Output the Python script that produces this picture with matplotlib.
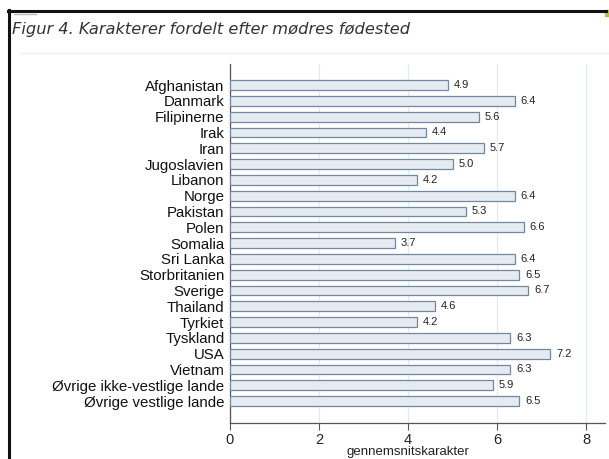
import matplotlib.pyplot as plt
from matplotlib.lines import Line2D
from matplotlib.patches import Rectangle

# Average grades by mother's country of birth
countries = ['Afghanistan', 'Danmark', 'Filipinerne', 'Irak', 'Iran', 'Jugoslavien',
             'Libanon', 'Norge', 'Pakistan', 'Polen', 'Somalia', 'Sri Lanka',
             'Storbritanien', 'Sverige', 'Thailand', 'Tyrkiet', 'Tyskland', 'USA',
             'Vietnam', 'Øvrige ikke-vestlige lande', 'Øvrige vestlige lande']
grades = [4.9, 6.4, 5.6, 4.4, 5.7, 5.0, 4.2, 6.4, 5.3, 6.6, 3.7, 6.4,
          6.5, 6.7, 4.6, 4.2, 6.3, 7.2, 6.3, 5.9, 6.5]
x_ticks = [0, 2, 4, 6, 8]

plt.rcParams['font.family'] = ['Liberation Sans', 'DejaVu Sans']

fig = plt.figure(figsize=(6.09, 4.59), dpi=100)
ax = fig.add_axes([230 / 609, 1 - 423 / 459, 375 / 609, (423 - 64) / 459])

pos = list(range(len(countries)))
ax.barh(pos, grades, height=0.62, color='#e5ebf1', edgecolor='#7388a0', linewidth=0.9, zorder=3)
for y, v in zip(pos, grades):
    ax.text(v + 0.13, y, '%.1f' % v, va='center', ha='left', fontsize=8, color='#222222')

ax.set_yticks(pos)
ax.set_yticklabels(countries, fontsize=10.8, color='#111111')
ax.set_ylim(len(countries) - 1 + 1.39, -1.33)
ax.set_xlim(0, 375 / 44.5)
ax.set_xticks(x_ticks)
ax.set_xticklabels([str(t) for t in x_ticks], fontsize=10.5, color='#222222')
ax.tick_params(axis='y', length=0, pad=4)
ax.tick_params(axis='x', length=5, width=0.8, color='#555555', pad=2)
ax.xaxis.grid(True, color='#dcecf0', linewidth=0.9, zorder=0)
ax.set_axisbelow(True)
for side in ['top', 'right']:
    ax.spines[side].set_visible(False)
for side in ['left', 'bottom']:
    ax.spines[side].set_color('#555555')
    ax.spines[side].set_linewidth(0.9)

# axis title sits right at the bottom edge
fig.text(408 / 609, 1 / 459, 'gennemsnitskarakter', fontsize=9.5, color='#222222',
         ha='center', va='bottom')

# heading and the surrounding frame
fig.text(12 / 609, 1 - 34 / 459, 'Figur 4. Karakterer fordelt efter mødres fødested',
         fontsize=11.7, style='italic', color='#333333', family='DejaVu Sans')
fig.add_artist(Line2D([8 / 609, 606 / 609], [1 - 11 / 459] * 2, color='#111111', linewidth=2.2))
fig.add_artist(Line2D([9 / 609, 9 / 609], [0, 1 - 10 / 459], color='#111111', linewidth=2.2))
fig.add_artist(Line2D([14 / 609, 36 / 609], [1 - 14 / 459] * 2, color='#bbbbbb', linewidth=1))
fig.add_artist(Line2D([20 / 609, 1], [1 - 53 / 459] * 2, color='#f0f0f0', linewidth=1))
fig.add_artist(Rectangle((605 / 609, 1 - 16 / 459), 4 / 609, 6 / 459, color='#b8c828'))

fig.savefig('out.png', dpi=100)
